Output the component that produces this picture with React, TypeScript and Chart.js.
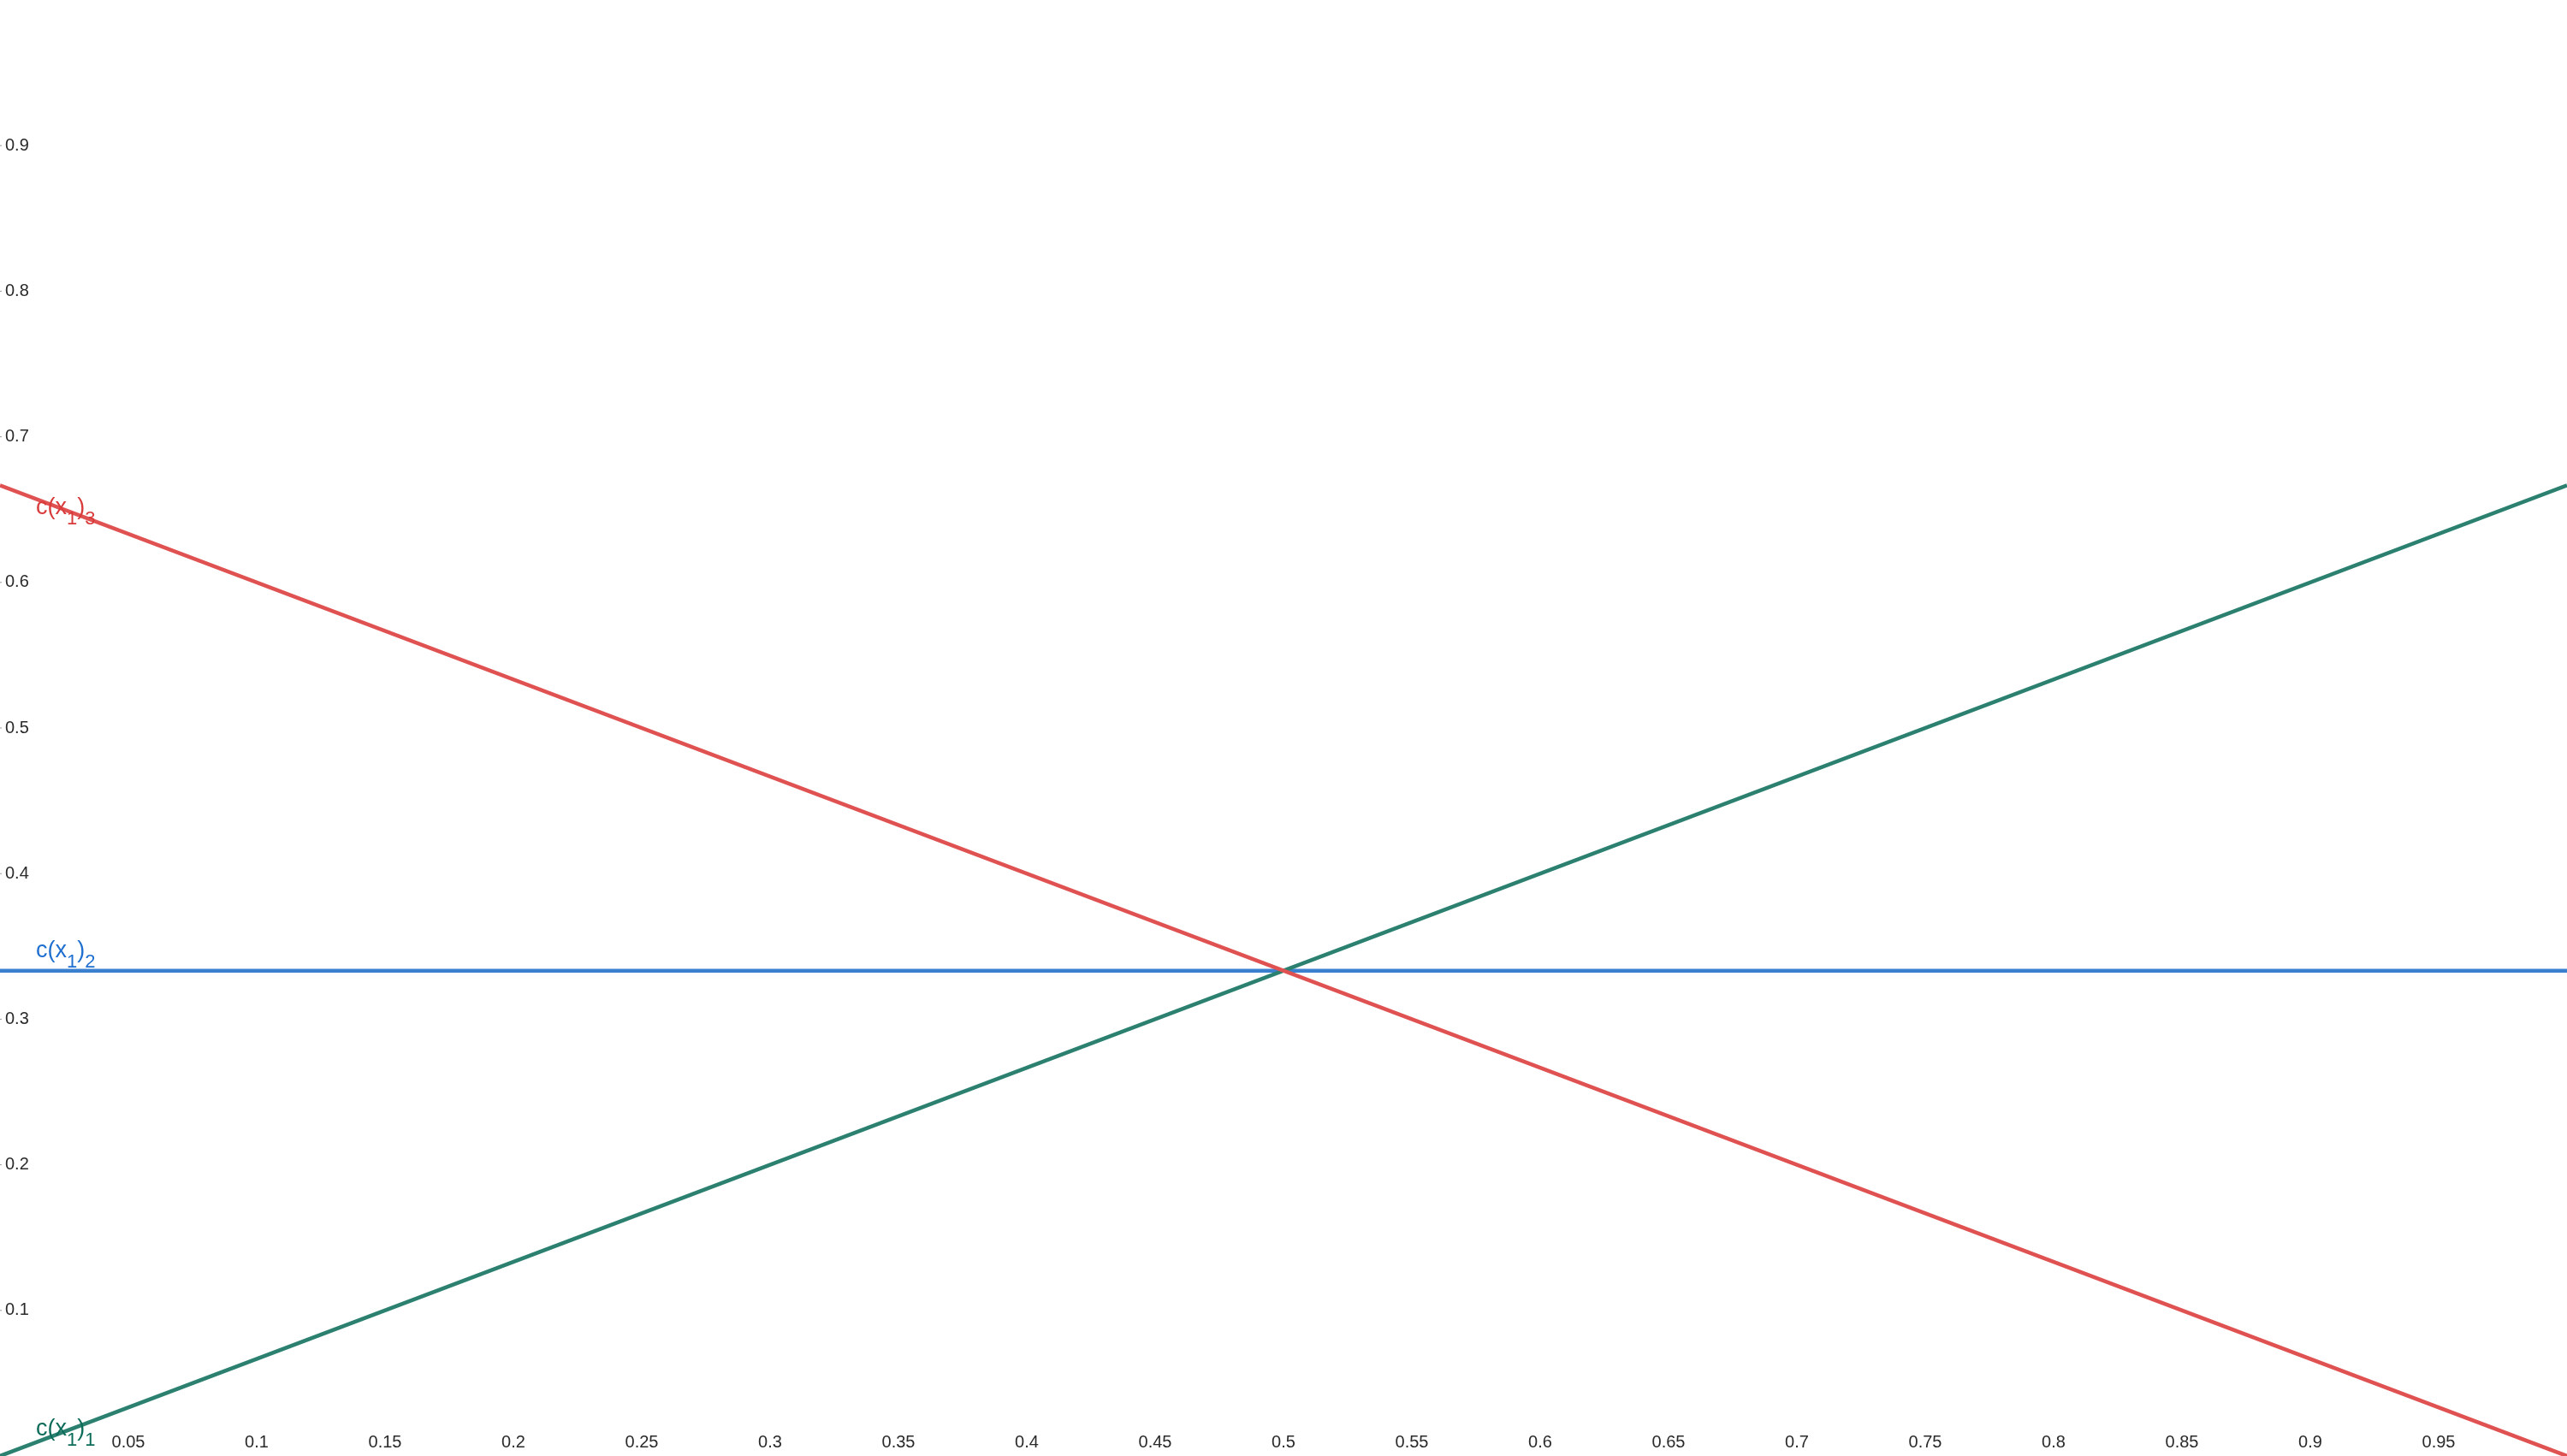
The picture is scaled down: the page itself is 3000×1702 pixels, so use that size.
import React, { useEffect, useRef } from "react";
import { Chart, registerables } from "chart.js";

Chart.register(...registerables);

// ---- data ----
const xValues = [0, 1];
const series1 = [0, 0.6667]; // c(x1)_1
const series2 = [0.3333, 0.3333]; // c(x1)_2
const series3 = [0.6667, 0]; // c(x1)_3

const seriesNames = ["1", "2", "3"];
const labelX = [0.014, 0.014, 0.014];
const labelY = [0.0141, 0.3425, 0.647];

const xTicks = [0.05, 0.1, 0.15, 0.2, 0.25, 0.3, 0.35, 0.4, 0.45, 0.5, 0.55, 0.6, 0.65, 0.7, 0.75, 0.8, 0.85, 0.9, 0.95];
const xTickLabels = ["0.05", "0.1", "0.15", "0.2", "0.25", "0.3", "0.35", "0.4", "0.45", "0.5", "0.55", "0.6", "0.65", "0.7", "0.75", "0.8", "0.85", "0.9", "0.95"];
const yTicks = [0.1, 0.2, 0.3, 0.4, 0.5, 0.6, 0.7, 0.8, 0.9];
const yTickLabels = ["0.1", "0.2", "0.3", "0.4", "0.5", "0.6", "0.7", "0.8", "0.9"];

const lineColors = ["#2b8070", "#3b7fcf", "#e05252"];
const textColors = ["#0d6b59", "#1f6fd0", "#d93a3a"];

const FONT = "'Liberation Sans', Arial, Helvetica, sans-serif";

const overlayPlugin = {
  id: "overlay",
  afterDatasetsDraw(chart: any) {
    const ctx = chart.ctx;
    const xs = chart.scales.x;
    const ys = chart.scales.y;
    ctx.save();
    // tick labels
    ctx.fillStyle = "#2a2a2a";
    ctx.font = `20px ${FONT}`;
    ctx.textAlign = "center";
    ctx.textBaseline = "alphabetic";
    xTicks.forEach((v, i) => {
      ctx.fillText(xTickLabels[i], xs.getPixelForValue(v), 1692);
    });
    ctx.textAlign = "left";
    ctx.textBaseline = "middle";
    yTicks.forEach((v, i) => {
      const py = ys.getPixelForValue(v);
      ctx.fillStyle = "#2a2a2a";
      ctx.fillText(yTickLabels[i], 6, py);
      ctx.fillStyle = "#9a9a9a";
      ctx.fillRect(0, py - 0.5, 2, 1);
    });
    // series labels
    ctx.textAlign = "left";
    ctx.textBaseline = "alphabetic";
    seriesNames.forEach((n, i) => {
      let px = xs.getPixelForValue(labelX[i]);
      const py = ys.getPixelForValue(labelY[i]);
      ctx.fillStyle = textColors[i];
      const parts: [string, boolean][] = [["c(x", false], ["1", true], [")", false], [n, true]];
      parts.forEach(([t, sub]) => {
        ctx.font = sub ? `22px ${FONT}` : `27px ${FONT}`;
        ctx.fillText(t, px, sub ? py + 12 : py);
        px += ctx.measureText(t).width;
      });
    });
    ctx.restore();
  },
};

export default function App() {
  const ref = useRef<HTMLCanvasElement | null>(null);
  useEffect(() => {
    document.body.style.margin = "0";
    document.body.style.background = "#ffffff";
    const mk = (vals: number[]) => xValues.map((x, i) => ({ x, y: vals[i] }));
    const chart = new Chart(ref.current as HTMLCanvasElement, {
      type: "line",
      data: {
        datasets: [
          { label: "c1", data: mk(series1), borderColor: lineColors[0], borderWidth: 4.5, pointRadius: 0, order: 1, fill: false },
          { label: "c2", data: mk(series2), borderColor: lineColors[1], borderWidth: 4.5, pointRadius: 0, order: 2, fill: false },
          { label: "c3", data: mk(series3), borderColor: lineColors[2], borderWidth: 4.5, pointRadius: 0, order: 0, fill: false },
        ],
      },
      options: {
        responsive: false,
        animation: false,
        layout: { padding: 0 },
        plugins: { legend: { display: false }, tooltip: { enabled: false }, title: { display: false } },
        scales: {
          x: { type: "linear", min: 0, max: 1, display: false },
          y: { type: "linear", min: 0, max: 1, display: false },
        },
      },
      plugins: [overlayPlugin],
    });
    return () => chart.destroy();
  }, []);
  return <canvas ref={ref} width={3000} height={1702} style={{ display: "block" }} />;
}
